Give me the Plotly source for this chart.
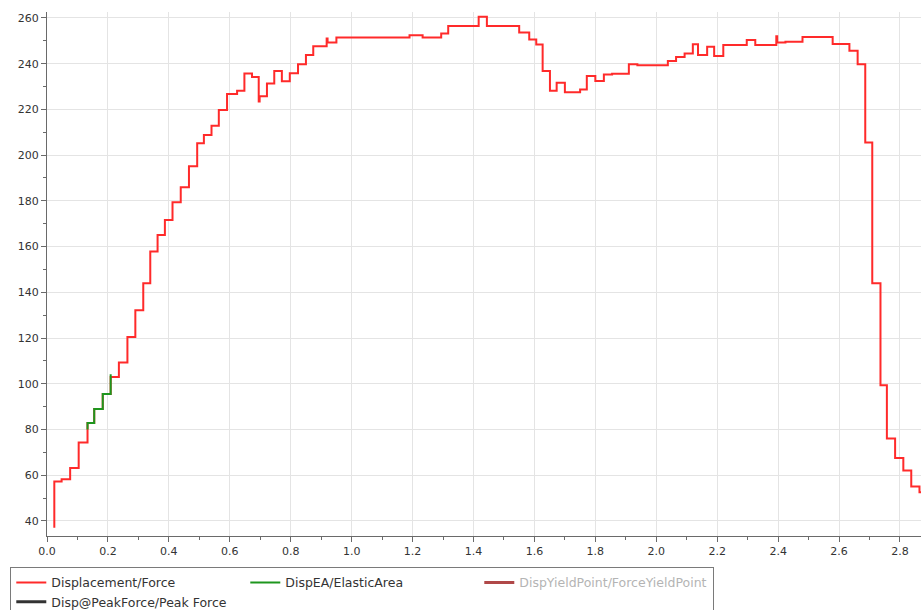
import plotly.graph_objects as go

# Force / displacement record (stair-step samples: displacement where each force level starts)
displacement = [
    0.024, 0.024, 0.048, 0.076, 0.104, 0.133, 0.155, 0.183, 0.209, 0.236,
    0.264, 0.290, 0.316, 0.339, 0.363, 0.387, 0.412, 0.439, 0.466, 0.493,
    0.515, 0.540, 0.564, 0.591, 0.624, 0.648, 0.673, 0.695, 0.698, 0.722,
    0.746, 0.771, 0.797, 0.824, 0.850, 0.874, 0.918, 0.921, 0.950, 1.190,
    1.233, 1.294, 1.317, 1.417, 1.444, 1.550, 1.583, 1.606, 1.627, 1.651,
    1.673, 1.700, 1.750, 1.772, 1.800, 1.828, 1.855, 1.910, 1.938, 2.038,
    2.065, 2.093, 2.120, 2.137, 2.167, 2.190, 2.220, 2.297, 2.325, 2.394,
    2.397, 2.424, 2.480, 2.579, 2.634, 2.661, 2.686, 2.709, 2.736, 2.757,
    2.784, 2.811, 2.837, 2.864, 2.870,
]
force = [
    37.0, 57.2, 58.2, 63.1, 74.3, 82.8, 88.9, 95.5, 103.0, 109.3,
    120.4, 132.1, 144.0, 157.8, 165.1, 171.6, 179.4, 185.9, 195.1, 205.2,
    208.8, 212.8, 219.7, 226.7, 228.1, 235.7, 234.2, 223.5, 225.8, 231.3,
    236.8, 232.3, 235.8, 239.8, 243.8, 247.6, 251.0, 249.3, 251.4, 252.4,
    251.4, 253.2, 256.5, 260.5, 256.5, 253.6, 250.6, 248.4, 236.8, 228.2,
    231.6, 227.5, 228.7, 234.6, 232.4, 235.3, 235.6, 239.7, 239.3, 241.2,
    242.9, 244.4, 248.5, 243.8, 247.4, 243.4, 248.2, 250.3, 248.2, 252.0,
    249.3, 249.6, 251.7, 248.6, 245.7, 239.7, 205.5, 144.0, 99.3, 76.0,
    67.5, 62.0, 55.0, 52.5, 52.5,
]

# Elastic region used for the EA fit
elastic_disp = [0.133, 0.133, 0.155, 0.183, 0.209, 0.209]
elastic_force = [80.0, 82.8, 88.9, 95.5, 95.5, 104.2]

x_ticks = [0.0, 0.2, 0.4, 0.6, 0.8, 1.0, 1.2, 1.4, 1.6, 1.8, 2.0, 2.2, 2.4, 2.6, 2.8]
y_ticks = [40, 60, 80, 100, 120, 140, 160, 180, 200, 220, 240, 260]

FONT = "DejaVu Sans"

fig = go.Figure()
fig.add_trace(go.Scatter(
    x=displacement, y=force, mode="lines", line_shape="hv",
    line=dict(color="#ff2a2a", width=2), name="Displacement/Force",
))
fig.add_trace(go.Scatter(
    x=elastic_disp, y=elastic_force, mode="lines", line_shape="hv",
    line=dict(color="#1e961e", width=2), name="DispEA/ElasticArea",
))
fig.add_trace(go.Scatter(
    x=[None], y=[None], mode="lines",
    line=dict(color="#b04848", width=3),
    name="<span style='color:#b4b4b4'>DispYieldPoint/ForceYieldPoint</span>",
))
fig.add_trace(go.Scatter(
    x=[None], y=[None], mode="lines",
    line=dict(color="#333333", width=3), name="Disp@PeakForce/Peak Force",
))

axis_common = dict(
    showline=True, linecolor="#6a6a6a", linewidth=1,
    showgrid=True, gridcolor="#e4e4e4", gridwidth=1,
    ticks="outside", ticklen=5, tickcolor="#6a6a6a",
    tickfont=dict(family=FONT, size=11, color="#333333"),
    zeroline=False, mirror=False,
)

fig.update_xaxes(
    range=[0, 2.869], tickvals=x_ticks, ticktext=[f"{v:.1f}" for v in x_ticks],
    minor=dict(dtick=0.1, tick0=0, ticklen=3, tickcolor="#6a6a6a", showgrid=False),
    **axis_common,
)
fig.update_yaxes(
    range=[33.4, 262.6], tickvals=y_ticks, ticktext=[str(v) for v in y_ticks],
    minor=dict(dtick=10, tick0=0, ticklen=3, tickcolor="#6a6a6a", showgrid=False),
    **axis_common,
)

fig.update_layout(
    width=921, height=610,
    margin=dict(l=47, r=0, t=12, b=74, autoexpand=False),
    paper_bgcolor="white", plot_bgcolor="white",
    font=dict(family=FONT, size=11, color="#333333"),
    showlegend=True,
    legend=dict(
        orientation="h", x=-0.042, xanchor="left", y=-0.059, yanchor="top",
        bgcolor="white", bordercolor="#7a7a7a", borderwidth=1,
        entrywidth=189, entrywidthmode="pixels", itemwidth=30,
        font=dict(family=FONT, size=12.5, color="#333333"),
        tracegroupgap=0,
    ),
)

fig.write_html("out.html")
